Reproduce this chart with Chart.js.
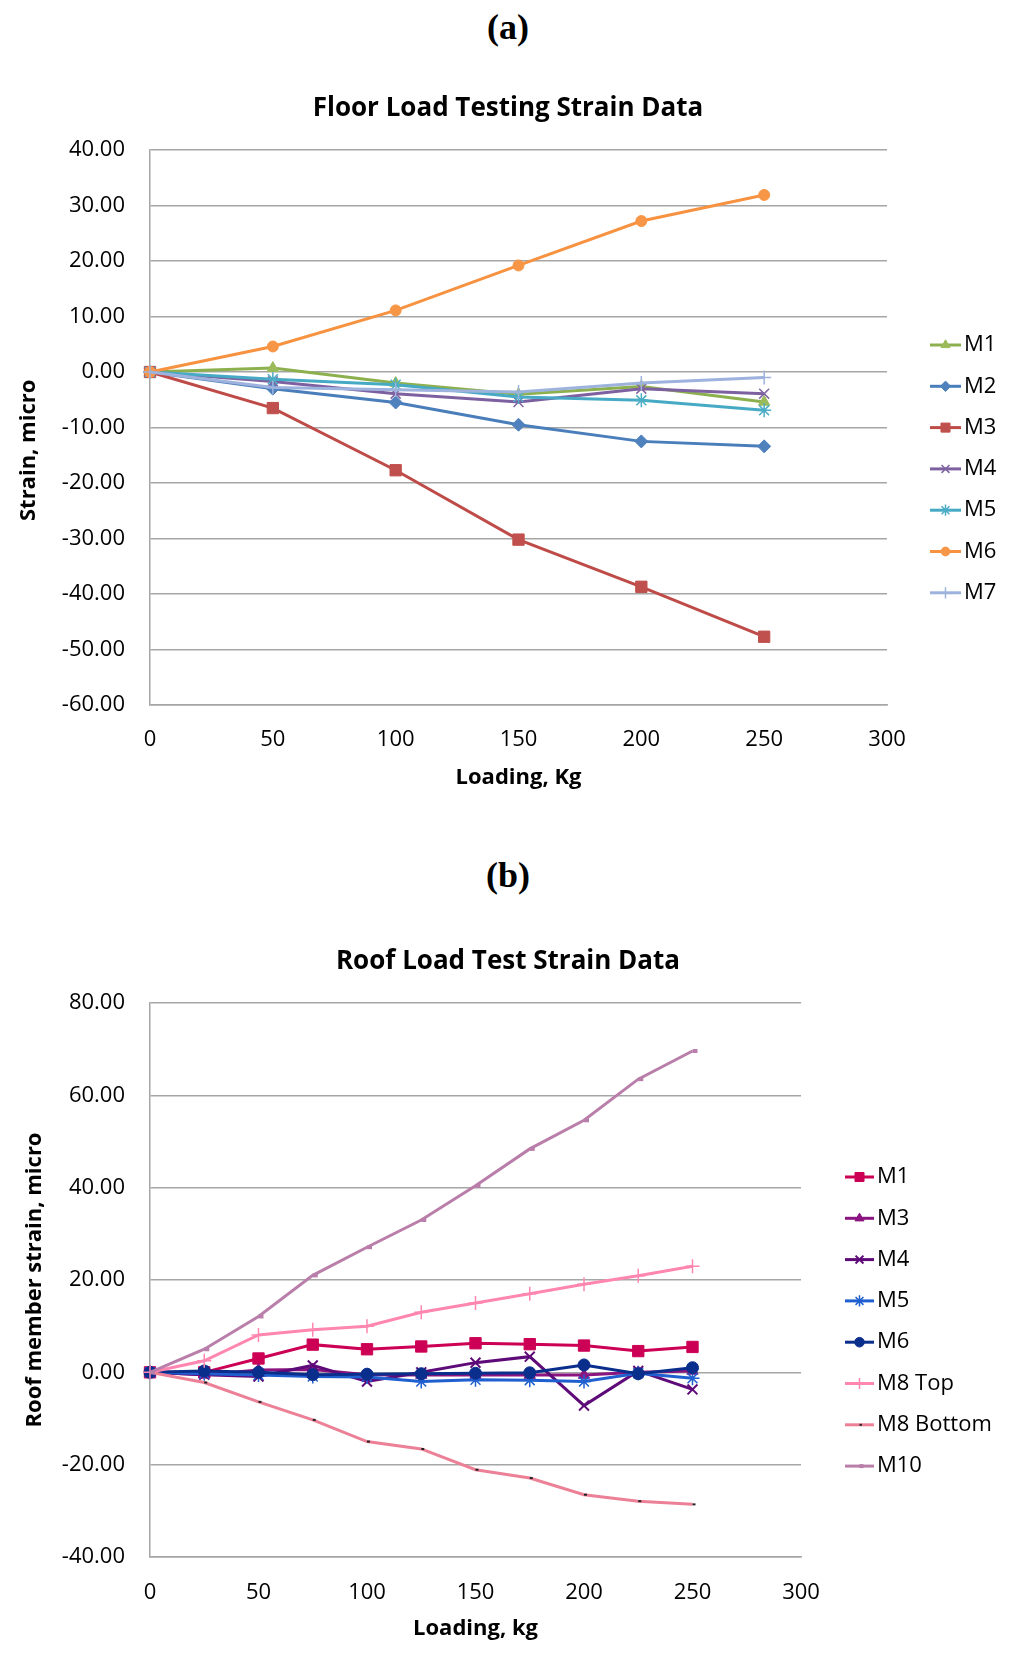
<!DOCTYPE html>
<html>
<head>
<meta charset="utf-8">
<script src="https://cdn.jsdelivr.net/npm/chart.js@4.4.0/dist/chart.umd.min.js"></script>
<style>
  body { margin: 0; background: #fff; width: 1024px; height: 1665px; position: relative; overflow: hidden; }
  .lbl { position: absolute; left: 0; width: 1016px; text-align: center; font: bold 36px "Liberation Serif", serif; color: #000; line-height: 42px; }
  .ttl { position: absolute; left: 0; width: 1016px; text-align: center; font: bold 26px "Open Sans", sans-serif; color: #000; line-height: 32px; z-index: 2; }
  .box { position: absolute; left: 0; width: 1024px; }
</style>
</head>
<body>
<div class="lbl" style="top:6px">(a)</div>
<div class="ttl" style="top:90px">Floor Load Testing Strain Data</div>
<div class="box" style="top:60px;height:740px"><canvas id="floorChart"></canvas></div>
<div class="lbl" style="top:854px">(b)</div>
<div class="ttl" style="top:943px">Roof Load Test Strain Data</div>
<div class="box" style="top:910px;height:755px"><canvas id="roofChart"></canvas></div>

<script>
'use strict';

// (a) floor test, loading in kg
var floorLoads = [0, 50, 100, 150, 200, 250];
var floorNames = ['M1', 'M2', 'M3', 'M4', 'M5', 'M6', 'M7'];
var floorM1 = [0, 0.7, -2.0, -4.0, -2.6, -5.4];
var floorM2 = [0, -3.0, -5.5, -9.5, -12.5, -13.4];
var floorM3 = [0, -6.5, -17.7, -30.2, -38.7, -47.7];
var floorM4 = [0, -1.7, -3.9, -5.4, -3.0, -3.9];
var floorM5 = [0, -1.3, -2.3, -4.5, -5.1, -6.9];
var floorM6 = [0, 4.6, 11.1, 19.2, 27.2, 31.9];
var floorM7 = [0, -2.8, -3.2, -3.6, -2.0, -1.0];
var floorTicksY = [-60, -50, -40, -30, -20, -10, 0, 10, 20, 30, 40];
var floorTicksX = [0, 50, 100, 150, 200, 250, 300];

// (b) roof test
var roofLoads = [0, 25, 50, 75, 100, 125, 150, 175, 200, 225, 250];
var roofNames = ['M1', 'M3', 'M4', 'M5', 'M6', 'M8 Top', 'M8 Bottom', 'M10'];
var roofM1 = [0, 0.0, 3.0, 6.0, 5.0, 5.6, 6.3, 6.1, 5.8, 4.6, 5.5];
var roofM3 = [0, -0.5, 0.5, 0.6, -0.5, -0.6, -0.6, -0.6, -0.6, 0.0, 0.3];
var roofM4 = [0, -0.5, -0.9, 1.5, -2.0, 0.0, 2.1, 3.4, -7.2, 0.3, -3.7];
var roofM5 = [0, -0.3, -0.6, -0.9, -1.0, -2.0, -1.6, -1.7, -2.0, -0.2, -1.3];
var roofM6 = [0, 0.3, 0.0, -0.5, -0.4, -0.3, -0.2, -0.1, 1.6, -0.3, 1.0];
var roofM8Top = [0, 2.5, 8.1, 9.2, 10.0, 13.0, 15.0, 17.0, 19.1, 20.9, 23.0];
var roofM8Bottom = [0, -2.2, -6.4, -10.3, -15.0, -16.6, -21.1, -22.9, -26.5, -27.9, -28.6];
var roofM10 = [0, 5.0, 12.1, 21.0, 27.1, 33.0, 40.4, 48.4, 54.6, 63.5, 69.6];
var roofTicksY = [-40, -20, 0, 20, 40, 60, 80];
var roofTicksX = [0, 50, 100, 150, 200, 250, 300];

// marker looks, kept apart from the values
var floorStyles = [
  { line: '#8db04f', fill: '#9bbb59', marker: 'triangle', r: 6.5, bw: 1 },
  { line: '#4a7ebb', fill: '#4f81bd', marker: 'rectRot', r: 6.5, bw: 1 },
  { line: '#be4b48', fill: '#c0504d', marker: 'rect', r: 8, bw: 1 },
  { line: '#7d60a0', fill: '#8064a2', marker: 'crossRot', r: 7, bw: 1.5 },
  { line: '#46aac5', fill: '#4bacc6', marker: 'star', r: 7, bw: 1.5 },
  { line: '#f69240', fill: '#f79646', marker: 'circle', r: 5.5, bw: 1 },
  { line: '#9db3de', fill: '#9db3de', marker: 'cross', r: 7, bw: 1.5 }
];
var roofStyles = [
  { line: '#cc0055', fill: '#cc0055', marker: 'rect', r: 8, bw: 1 },
  { line: '#8a1480', fill: '#8a1480', marker: 'triangle', r: 6.5, bw: 1 },
  { line: '#5e0a78', fill: '#5e0a78', marker: 'crossRot', r: 7, bw: 2 },
  { line: '#1f5fcf', fill: '#1f5fcf', marker: 'star', r: 7, bw: 1.5 },
  { line: '#0a2e8c', fill: '#0a2e8c', marker: 'circle', r: 6, bw: 1 },
  { line: '#ff86b0', fill: '#ff86b0', marker: 'cross', r: 7, bw: 1.5 },
  { line: '#ec8097', fill: '#222222', marker: 'dash', r: 3, bw: 2 },
  { line: '#b97ea9', fill: '#b97ea9', marker: 'dash', r: 5, bw: 4 }
];

Chart.defaults.font.family = "'Open Sans', sans-serif";
Chart.defaults.color = '#000';

// Excel style legend: short line with the marker in the middle
var lineLegend = {
  id: 'lineLegend',
  afterDraw: function(chart, args, o) {
    var ctx = chart.ctx, area = chart.chartArea;
    var x0 = area.right + o.dx, y0 = area.top + o.dy;
    chart.data.datasets.forEach(function(ds, i) {
      var y = y0 + i * o.step;
      ctx.save();
      ctx.strokeStyle = ds.borderColor;
      ctx.lineWidth = 3;
      ctx.beginPath();
      ctx.moveTo(x0, y);
      ctx.lineTo(x0 + o.len, y);
      ctx.stroke();
      ctx.fillStyle = ds.pointBackgroundColor;
      ctx.strokeStyle = ds.pointBorderColor;
      ctx.lineWidth = ds.pointBorderWidth;
      Chart.helpers.drawPoint(ctx, {
        pointStyle: ds.pointStyle, radius: ds.pointRadius * 0.8,
        rotation: 0, borderWidth: ds.pointBorderWidth
      }, x0 + o.len / 2, y);
      ctx.fillStyle = '#000';
      ctx.font = '22px "Open Sans"';
      ctx.textBaseline = 'middle';
      ctx.fillText(ds.label, x0 + o.len + 3, y);
      ctx.restore();
    });
  }
};

function makeSets(names, loads, values, styles) {
  return names.map(function(name, i) {
    var st = styles[i];
    return {
      label: name,
      data: loads.map(function(x, j) { return { x: x, y: values[i][j] }; }),
      borderColor: st.line,
      backgroundColor: st.fill,
      borderWidth: 3,
      pointStyle: st.marker,
      pointRadius: st.r,
      pointBorderWidth: st.bw,
      pointBackgroundColor: st.fill,
      pointBorderColor: st.fill,
      order: names.length - i,
      clip: false,
      tension: 0
    };
  });
}

function strainChart(id, c) {
  var ctx = document.getElementById(id).getContext('2d');
  return new Chart(ctx, {
    type: 'line',
    data: { datasets: makeSets(c.names, c.loads, c.values, c.styles) },
    plugins: [lineLegend],
    options: {
      responsive: true,
      maintainAspectRatio: false,
      animation: false,
      layout: { padding: { left: 0, top: c.topPad, bottom: 0, right: c.rightPad } },
      plugins: {
        legend: { display: false },
        tooltip: { enabled: false },
        title: { display: false },
        lineLegend: c.legend
      },
      scales: {
        x: {
          type: 'linear', min: c.xTicks[0], max: c.xTicks[c.xTicks.length - 1],
          afterBuildTicks: function(s) { s.ticks = c.xTicks.map(function(v) { return { value: v }; }); },
          ticks: { font: { size: 22 }, padding: c.xPad, callback: function(v) { return String(v); } },
          grid: { display: false, drawTicks: false },
          border: { color: '#a6a6a6', width: 1.5 },
          title: {
            display: true, text: c.xTitle, color: '#000',
            font: { size: 22, weight: 'bold' }, padding: { top: 0, bottom: c.xTitlePad }
          },
          afterFit: function(s) { s.height = c.xHeight; }
        },
        y: {
          min: c.yTicks[0], max: c.yTicks[c.yTicks.length - 1],
          afterBuildTicks: function(s) { s.ticks = c.yTicks.map(function(v) { return { value: v }; }); },
          ticks: { font: { size: 22 }, padding: 25, callback: function(v) { return v.toFixed(2); } },
          grid: { color: '#a6a6a6', lineWidth: 1.5, drawTicks: false },
          border: { color: '#a6a6a6', width: 1.5 },
          title: {
            display: true, text: c.yTitle, color: '#000',
            font: { size: 22, weight: 'bold' }, padding: { top: c.yTitlePad, bottom: 0 }
          },
          afterFit: function(s) { s.width = 150; }
        }
      }
    }
  });
}

strainChart('floorChart', {
  names: floorNames, loads: floorLoads, styles: floorStyles,
  values: [floorM1, floorM2, floorM3, floorM4, floorM5, floorM6, floorM7],
  xTicks: floorTicksX, yTicks: floorTicksY,
  // trailing spaces push the label a little down, as in the original
  xTitle: 'Loading, Kg', yTitle: 'Strain, micro        ',
  topPad: 90, rightPad: 137,
  xHeight: 95, xPad: 22, xTitlePad: 9, yTitlePad: 16,
  legend: { dx: 43, dy: 195, step: 41.3, len: 31 }
});

strainChart('roofChart', {
  names: roofNames, loads: roofLoads, styles: roofStyles,
  values: [roofM1, roofM3, roofM4, roofM5, roofM6, roofM8Top, roofM8Bottom, roofM10],
  xTicks: roofTicksX, yTicks: roofTicksY,
  xTitle: 'Loading, kg', yTitle: 'Roof member strain, micro',
  topPad: 93, rightPad: 223,
  xHeight: 108, xPad: 23, xTitlePad: 23, yTitlePad: 22,
  legend: { dx: 44, dy: 174, step: 41.3, len: 29 }
});
</script>
</body>
</html>
